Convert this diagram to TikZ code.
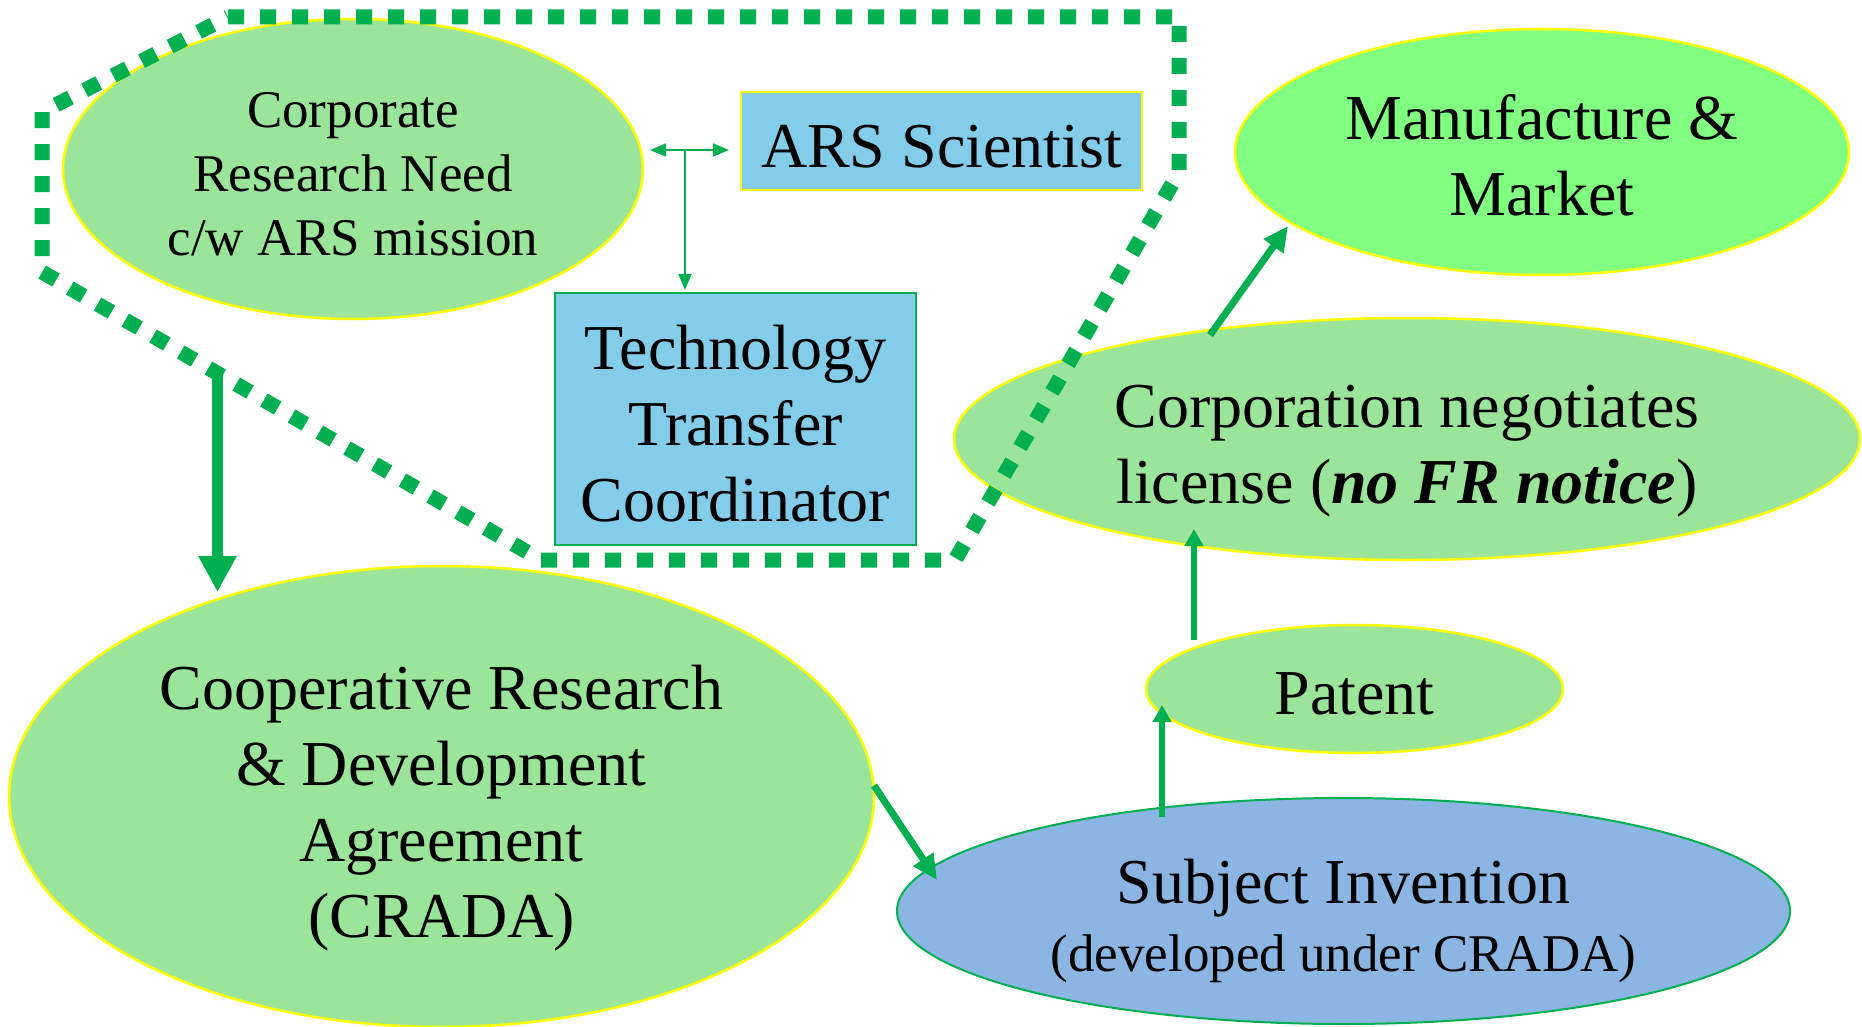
\documentclass[tikz,border=0pt]{standalone}
\usepackage{fontspec}
\setmainfont{Liberation Serif}
\usetikzlibrary{shapes.geometric,arrows.meta,calc}

\definecolor{flowgreen}{RGB}{0,176,80}
\definecolor{palegreen}{RGB}{154,229,154}
\definecolor{brightgreen}{RGB}{128,255,128}
\definecolor{skyblue}{RGB}{131,205,235}
\definecolor{inventblue}{RGB}{139,181,226}
\definecolor{rimyellow}{RGB}{255,255,0}

\newcommand\fsz[2]{\fontsize{#1pt}{#2pt}\selectfont}
% zero-width strut on a first line: lowers the text block inside its shape
\newcommand\topstrut[1]{\rule{0pt}{#1}}

\begin{document}
\begin{tikzpicture}[x=1pt,y=-1pt,
  every node/.style={inner sep=0pt, outer sep=0pt, align=center, text=black},
  oval/.style={ellipse, draw=rimyellow, line width=2.5pt, fill=palegreen, font=\fsz{64}{76}},
  panel/.style={rectangle, line width=2pt, fill=skyblue, font=\fsz{64}{76}},
  thinarrow/.style={draw=flowgreen, line width=1.8pt, -{Triangle[length=16pt,width=13pt]}},
  twoway/.style={draw=flowgreen, line width=1.8pt, {Triangle[length=16pt,width=13pt]}-{Triangle[length=16pt,width=13pt]}},
  bigarrow/.style={draw=flowgreen, line width=11pt, -{Triangle[length=36pt,width=36pt]}},
  midarrow/.style={draw=flowgreen, line width=7pt, -{Triangle[length=25pt,width=23pt]}},
  smallarrow/.style={draw=flowgreen, line width=6pt, -{Triangle[length=17pt,width=18pt]}},
  boundary/.style={draw=flowgreen, line width=15pt, dash pattern=on 16pt off 16pt, line join=miter}
]
\useasboundingbox (0,0) rectangle (1862,1027);

% ---- nodes ----
\node[oval, minimum width=580pt, minimum height=300pt, font=\fsz{53}{64}] (corp) at (353,169)
  {\topstrut{46pt}Corporate\\Research Need\\c/w ARS mission};
\node[panel, draw=rimyellow, minimum width=401pt, minimum height=98pt] (ars) at (941.5,141)
  {\topstrut{53pt}ARS Scientist};
\node[panel, draw=flowgreen, minimum width=361pt, minimum height=252pt] (ttc) at (735.5,419)
  {\topstrut{53pt}Technology\\Transfer\\Coordinator};
\node[oval, fill=brightgreen, minimum width=614pt, minimum height=246pt] (manu) at (1542,152)
  {\topstrut{51pt}Manufacture \&\\Market};
\node[oval, minimum width=906pt, minimum height=242pt] (lic) at (1407,439)
  {\topstrut{67pt}Corporation negotiates\\license (\textbf{\textit{no FR notice}})};
\node[oval, minimum width=417pt, minimum height=128pt] (pat) at (1354.5,689)
  {\topstrut{52pt}Patent};
\node[oval, draw=flowgreen, line width=2pt, fill=inventblue, minimum width=893pt, minimum height=226pt] (inv) at (1343.5,911)
  {\topstrut{64pt}Subject Invention\\[-8pt]{\fsz{53}{64}(developed under CRADA)}};
\node[oval, minimum width=865pt, minimum height=461pt] (crada) at (441.5,796.5)
  {\topstrut{67pt}Cooperative Research\\\& Development\\Agreement\\(CRADA)};

% ---- connector end points ----
\coordinate (split) at (685,150);
\coordinate (corpOut) at (217.5,372);
\coordinate (invIn) at (937,880);
\coordinate (invOut) at (1162,817);
\coordinate (patIn) at (1162,705);
\coordinate (patOut) at (1194,640);
\coordinate (licIn) at (1194,529);
\coordinate (licOut) at (1210,335);
\coordinate (manuIn) at (1288,226);

% ---- connectors ----
\draw[twoway, shorten <=7pt, shorten >=12pt] (corp.east |- split) -- (ars.west |- split);
\draw[thinarrow, shorten >=3pt] (split) -- (split |- ttc.north);
\draw[bigarrow, shorten >=-26pt] (corpOut) -- (corpOut |- crada.north);
\draw[midarrow] ([yshift=11pt]crada.east) -- (invIn);
\draw[smallarrow] (invOut) -- (patIn);
\draw[smallarrow] (patOut) -- (licIn);
\draw[midarrow] (licOut) -- (manuIn);

% ---- dotted boundary around the research partners ----
\draw[boundary] (228,17) -- (1179,17) -- (1179,172) -- (955,560) -- (541,560)
  -- (42,272) -- (42,112) -- cycle;
\end{tikzpicture}
\end{document}
